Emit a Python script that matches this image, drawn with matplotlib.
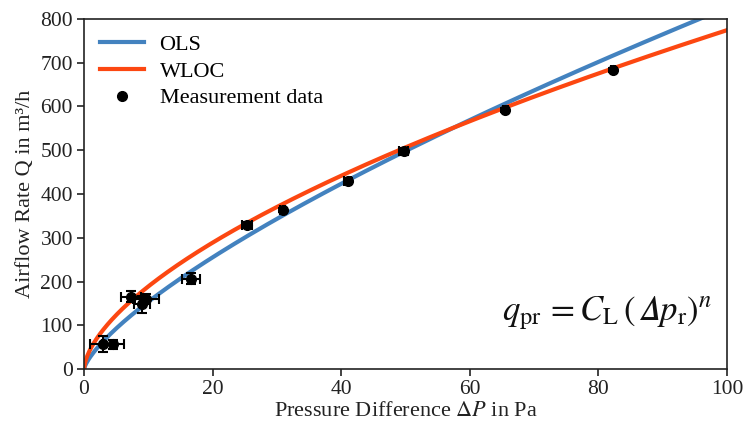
import numpy as np
import matplotlib
matplotlib.use("Agg")
import matplotlib.pyplot as plt
from matplotlib.lines import Line2D

# measurement data
dp = [2.9, 4.5, 7.3, 9.0, 9.6, 16.6, 25.4, 30.9, 41.0, 49.7, 65.5, 82.3]
q = [57, 57, 166, 148, 160, 207, 329, 364, 430, 497, 592, 683]
dp_err = [2.0, 1.7, 1.6, 1.3, 2.0, 1.4, 0.8, 0.4, 0.5, 0.7, 0.4, 0.3]
q_err = [18, 10, 12, 20, 12, 13, 6, 5, 6, 8, 5, 4]

# fitted power-law models q = C * dp^n
ols_C, ols_n = 28.8, 0.7286
wloc_C, wloc_n = 46.2, 0.612

x_ticks = [0, 20, 40, 60, 80, 100]
y_ticks = [0, 100, 200, 300, 400, 500, 600, 700, 800]

plt.rcParams['font.family'] = ['Liberation Serif', 'DejaVu Serif']
plt.rcParams['mathtext.fontset'] = 'stix'

FS = 15.5
fig = plt.figure(figsize=(7.43, 4.26), dpi=100)
ax = fig.add_axes([84/743, 1 - 369.3/426, 643/743, 350.6/426])

blue = '#4382bf'
red = '#fc4711'
xs = np.linspace(0, 100, 600)
ax.plot(xs, ols_C * xs**ols_n, color=blue, lw=3.0, zorder=2)
ax.plot(xs, wloc_C * xs**wloc_n, color=red, lw=3.0, zorder=2)
ax.errorbar(dp, q, xerr=dp_err, yerr=q_err, fmt='o', color='black', ms=7,
            ecolor='black', elinewidth=1.5, capsize=3.5, capthick=1.5, zorder=3)

ax.set_xlim(0, 100)
ax.set_ylim(0, 800)
ax.set_xticks(x_ticks)
ax.set_yticks(y_ticks)
ax.tick_params(axis='both', labelsize=FS, direction='out', length=5, width=1.2,
               colors='#222222', labelcolor='#222222', pad=3)
for s in ax.spines.values():
    s.set_linewidth(1.2)
    s.set_color('#222222')

ax.set_xlabel(r'Pressure Difference $\Delta P$ in Pa', fontsize=16, color='#222222', labelpad=2)
ax.set_ylabel('Airflow Rate Q in m³/h', fontsize=16, color='#222222', labelpad=4)

handles = [Line2D([], [], color=blue, lw=3.0),
           Line2D([], [], color=red, lw=3.0),
           Line2D([], [], color='black', marker='o', ls='none', ms=7)]
labels = ['OLS', 'WLOC', 'Measurement data']
ax.legend(handles, labels, loc='upper left', frameon=False, fontsize=16, handlelength=2.0,
          borderaxespad=0.3, borderpad=0.4, labelspacing=0.28, handletextpad=0.7)

ax.text(0.978, 0.16, r'$q_{\mathrm{pr}}\,=C_{\mathrm{L}}\,\left(\,𝛥p_{\mathrm{r}}\right)^{n}$',
        transform=ax.transAxes, ha='right', va='center', fontsize=25, color='#111111')

fig.savefig('out.png', dpi=100)
